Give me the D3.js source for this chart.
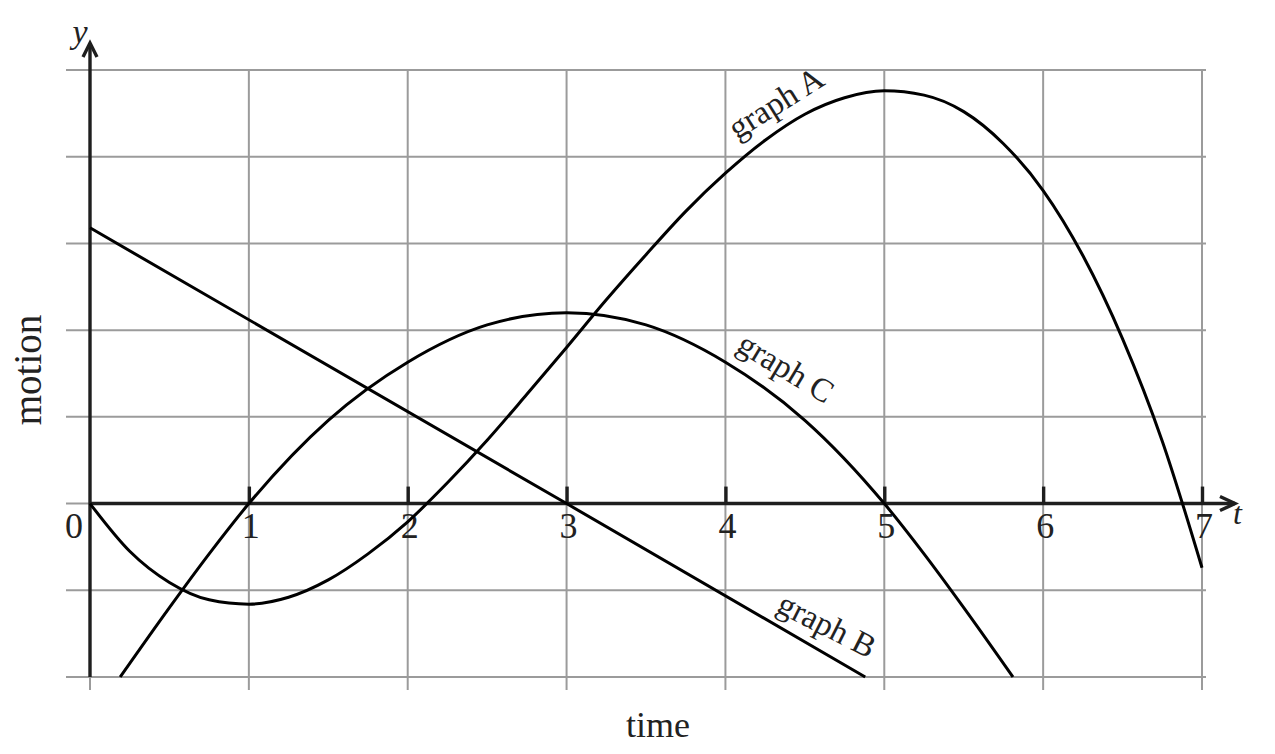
<!DOCTYPE html>
<html>
<head>
<meta charset="utf-8">
<script src="https://cdn.jsdelivr.net/npm/d3@7"></script>
<style>
  html, body { margin: 0; padding: 0; background: #fff; }
  svg { display: block; }
  text { font-family: "Liberation Serif", "DejaVu Serif", serif; fill: #222; }
</style>
</head>
<body>
<svg id="chart" width="1275" height="754"></svg>
<script>
// ---- data ----
const gridT = [0, 1, 2, 3, 4, 5, 6, 7];
const gridY = [-2, -1, 0, 1, 2, 3, 4, 5];
const tickT = [1, 2, 3, 4, 5, 6, 7];
const tickLabels = ["0", "1", "2", "3", "4", "5", "6", "7"];

const graphAT = [0, 0.25, 0.5, 0.75, 1, 1.25, 1.5, 1.75, 2, 2.25, 2.5, 2.75, 3, 3.25, 3.5, 3.75,
                 4, 4.25, 4.5, 4.75, 5, 5.25, 5.5, 5.75, 6, 6.25, 6.5, 6.75, 7];
const graphA  = [0, -0.55, -0.91, -1.11, -1.16, -1.08, -0.88, -0.58, -0.21, 0.24, 0.73, 1.26, 1.80, 2.35, 2.87, 3.37,
                 3.81, 4.19, 4.49, 4.68, 4.76, 4.71, 4.52, 4.15, 3.61, 2.86, 1.90, 0.72, -0.74];

const graphBT = [0, 3, 4.88];
const graphB  = [3.18, 0, -2];

const graphCT = [0.19, 0.5, 0.75, 1, 1.5, 2, 2.5, 3, 3.5, 4, 4.5, 5, 5.25, 5.5, 5.81];
const graphC  = [-2, -1.2, -0.58, 0, 0.96, 1.63, 2.06, 2.2, 2.06, 1.63, 0.96, 0, -0.58, -1.2, -2];

// ---- layout ----
const svg = d3.select("#chart");
const x = d3.scaleLinear().domain([0, 7]).range([90, 1202]);
const y = d3.scaleLinear().domain([-2, 5]).range([677, 70]);

const gridColor = "#9b9b9b";
const ink = "#1e1e1e";

// horizontal grid lines
svg.append("g").selectAll("line").data(gridY).join("line")
  .attr("x1", 66).attr("x2", 1206)
  .attr("y1", d => y(d)).attr("y2", d => y(d))
  .attr("stroke", gridColor).attr("stroke-width", 2);

// vertical grid lines
svg.append("g").selectAll("line").data(gridT).join("line")
  .attr("x1", d => x(d)).attr("x2", d => x(d))
  .attr("y1", y(5)).attr("y2", y(-2) + 13)
  .attr("stroke", gridColor).attr("stroke-width", 2);

// x axis line + arrow
svg.append("line")
  .attr("x1", x(0)).attr("x2", 1235).attr("y1", y(0)).attr("y2", y(0))
  .attr("stroke", ink).attr("stroke-width", 3.4);
svg.append("path")
  .attr("d", `M1220,${y(0) - 7} L1235,${y(0)} L1220,${y(0) + 7}`)
  .attr("fill", "none").attr("stroke", ink).attr("stroke-width", 3.4);

// y axis line + arrow
svg.append("line")
  .attr("x1", x(0)).attr("x2", x(0)).attr("y1", y(-2)).attr("y2", 43)
  .attr("stroke", ink).attr("stroke-width", 3.4);
svg.append("path")
  .attr("d", `M${x(0) - 7},57 L${x(0)},43 L${x(0) + 7},57`)
  .attr("fill", "none").attr("stroke", ink).attr("stroke-width", 3.4);

// x ticks (pointing up)
const xAxis = d3.axisBottom(x).tickValues(tickT).tickSize(-17).tickFormat("");
const gx = svg.append("g").attr("transform", `translate(0,${y(0)})`).call(xAxis);
gx.select(".domain").remove();
gx.selectAll(".tick line").attr("stroke", ink).attr("stroke-width", 3.4);

// tick labels
svg.append("g").selectAll("text").data(tickLabels).join("text")
  .attr("x", (d, i) => i === 0 ? x(0) - 16 : x(i) + 2)
  .attr("y", 538)
  .attr("text-anchor", "middle")
  .attr("font-size", 36)
  .text(d => d);

// axis letters
svg.append("text").attr("x", 1233).attr("y", 524)
  .attr("font-size", 32).attr("font-style", "italic").text("t");
svg.append("text").attr("x", 80).attr("y", 43)
  .attr("text-anchor", "middle")
  .attr("font-size", 34).attr("font-style", "italic").text("y");

// axis titles
svg.append("text").attr("x", 658).attr("y", 737)
  .attr("text-anchor", "middle").attr("font-size", 36).text("time");
svg.append("text")
  .attr("transform", "translate(41,370) rotate(-90)")
  .attr("text-anchor", "middle").attr("font-size", 39).text("motion");

// curves
const line = d3.line().x(d => x(d[0])).y(d => y(d[1])).curve(d3.curveMonotoneX);
const lineStraight = d3.line().x(d => x(d[0])).y(d => y(d[1]));

svg.append("path")
  .datum(graphAT.map((t, i) => [t, graphA[i]]))
  .attr("d", line)
  .attr("fill", "none").attr("stroke", "#000").attr("stroke-width", 3);

svg.append("path")
  .datum(graphBT.map((t, i) => [t, graphB[i]]))
  .attr("d", lineStraight)
  .attr("fill", "none").attr("stroke", "#000").attr("stroke-width", 3);

svg.append("path")
  .datum(graphCT.map((t, i) => [t, graphC[i]]))
  .attr("d", line)
  .attr("fill", "none").attr("stroke", "#000").attr("stroke-width", 3);

// curve labels
const curveLabels = [
  { text: "graph A", px: 737, py: 140, angle: -32 },
  { text: "graph C", px: 735, py: 350, angle: 31 },
  { text: "graph B", px: 775, py: 611, angle: 27 }
];
svg.append("g").selectAll("text").data(curveLabels).join("text")
  .attr("transform", d => `translate(${d.px},${d.py}) rotate(${d.angle})`)
  .attr("font-size", 33)
  .text(d => d.text);
</script>
</body>
</html>
